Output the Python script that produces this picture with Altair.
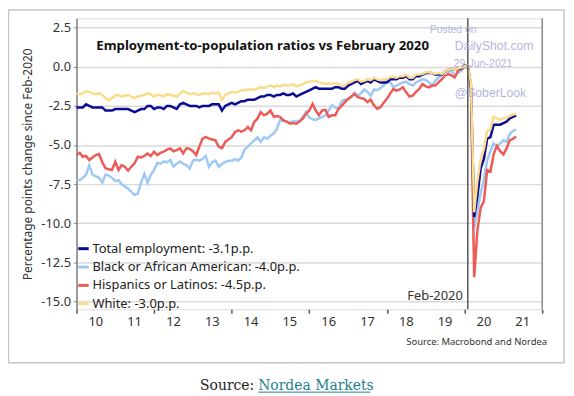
import altair as alt
import pandas as pd

# ---- data (monthly, Jan-2010 .. May-2021), change vs Feb-2020 in p.p. ----
months = pd.date_range("2010-01-01", "2021-05-01", freq="MS").strftime("%Y/%m/%d").tolist()

series_labels = [
    "Total employment: -3.1p.p.",
    "Black or African American: -4.0p.p.",
    "Hispanics or Latinos: -4.5p.p.",
    "White: -3.0p.p.",
]
series_colors = ["#0b0b94", "#9fc9f5", "#ec5b56", "#fbdc8a"]

total = [
    -2.6, -2.6, -2.6, -2.4, -2.5, -2.6, -2.6, -2.6, -2.6, -2.8, -2.8, -2.8,
    -2.7, -2.7, -2.7, -2.7, -2.7, -2.8, -2.9, -2.8, -2.7, -2.7, -2.5, -2.5,
    -2.7, -2.6, -2.6, -2.7, -2.5, -2.5, -2.6, -2.7, -2.4, -2.3, -2.4, -2.5,
    -2.5, -2.5, -2.6, -2.5, -2.5, -2.5, -2.4, -2.4, -2.4, -2.8, -2.5, -2.4,
    -2.3, -2.4, -2.3, -2.2, -2.2, -2.1, -2.1, -2.1, -2.0, -1.9, -1.9, -1.8,
    -1.8, -1.9, -1.8, -1.8, -1.7, -1.8, -1.8, -1.7, -1.9, -1.8, -1.7, -1.6,
    -1.5, -1.4, -1.3, -1.4, -1.4, -1.4, -1.4, -1.4, -1.3, -1.3, -1.4, -1.4,
    -1.2, -1.1, -1.0, -0.9, -1.1, -1.0, -0.9, -1.0, -0.8, -0.9, -1.0, -1.0,
    -1.0, -0.8, -0.8, -0.8, -0.7, -0.7, -0.6, -0.8, -0.8, -0.6, -0.6, -0.5,
    -0.4, -0.4, -0.4, -0.5, -0.5, -0.5, -0.3, -0.2, -0.1, -0.2, -0.1, -0.1,
    0.1, 0.0, -1.1, -9.6, -8.3, -6.5, -5.9, -4.6, -4.5, -3.7, -3.7, -3.7,
    -3.6, -3.5, -3.3, -3.2, -3.1,
]

black = [
    -7.2, -7.25, -7.1, -6.9, -6.3, -6.9, -7.0, -7.1, -7.4, -6.9, -6.95, -7.1,
    -7.3, -7.25, -7.5, -7.65, -7.8, -8.0, -8.2, -8.1, -7.4, -6.85, -7.4, -6.9,
    -6.6, -6.15, -6.2, -6.05, -6.1, -5.96, -6.38, -6.2, -6.05, -6.2, -6.3, -6.5,
    -6.0, -5.95, -6.0, -5.9, -5.7, -6.4, -6.1, -6.0, -6.4, -6.2, -6.1, -6.0,
    -6.0, -5.9, -6.0, -5.8, -5.3, -5.1, -4.9, -4.7, -4.5, -4.8, -4.5, -4.6,
    -4.4, -4.25, -4.0, -3.4, -3.45, -3.5, -3.55, -3.5, -3.45, -3.5, -3.2, -2.9,
    -3.25, -3.35, -3.4, -3.3, -3.2, -3.1, -2.8, -2.45, -2.6, -2.7, -2.2, -2.1,
    -2.05, -1.9, -1.65, -1.85, -1.7, -1.45, -1.6, -1.85, -1.45, -1.5, -1.35, -1.2,
    -0.8, -1.0, -1.3, -1.2, -1.1, -1.0, -0.95, -1.1, -1.2, -1.0, -0.9, -0.8,
    -0.85, -1.0, -1.2, -0.9, -0.7, -0.5, -0.3, -0.35, -0.25, -0.55, -0.4, -0.25,
    -0.05, 0.0, -1.3, -10.3, -9.2, -8.1, -7.2, -6.0, -5.4, -4.9, -5.1, -4.9,
    -4.7, -4.8, -4.3, -4.1, -4.0,
]

hispanic = [
    -5.64, -5.5, -5.75, -5.7, -5.96, -5.8, -5.64, -5.58, -6.1, -6.49, -6.55, -6.6,
    -6.07, -6.6, -6.28, -6.39, -6.64, -6.39, -6.17, -5.75, -5.8, -5.7, -5.54, -5.7,
    -5.43, -5.64, -5.5, -5.43, -5.3, -5.22, -5.4, -5.33, -5.22, -5.54, -5.2, -5.25,
    -5.4, -5.64, -5.11, -4.6, -4.48, -4.59, -4.65, -4.7, -5.11, -5.2, -4.8, -4.65,
    -4.5, -4.17, -4.06, -4.15, -4.06, -3.85, -4.06, -3.53, -3.3, -2.9, -3.1, -3.0,
    -2.8, -3.2, -3.15, -3.2, -3.42, -3.5, -3.64, -3.6, -3.64, -3.5, -3.32, -3.0,
    -2.79, -2.37, -2.79, -3.1, -2.79, -2.75, -3.2, -3.1, -3.1, -2.7, -2.5, -2.26,
    -2.05, -1.9, -1.73, -1.94, -2.0, -2.05, -2.26, -2.1, -2.47, -2.68, -2.58, -2.3,
    -2.05, -1.7, -1.42, -1.52, -1.45, -1.31, -1.63, -1.9, -1.84, -1.6, -1.42, -1.1,
    -1.25, -1.31, -1.2, -1.2, -1.0, -0.8, -0.57, -0.47, -0.55, -0.68, -0.25, -0.15,
    0.06, 0.0, -1.4, -13.45, -10.5, -9.0, -8.6, -6.6, -6.7, -5.6, -5.05, -5.4,
    -5.6, -5.2, -4.7, -4.6, -4.45,
]

white = [
    -1.7, -1.75, -1.7, -1.55, -1.6, -1.7, -1.75, -1.7, -1.8, -2.0, -2.15, -2.0,
    -1.85, -1.8, -1.9, -1.85, -1.8, -1.9, -2.0, -1.9, -1.85, -1.8, -1.7, -1.75,
    -1.9, -1.8, -1.8, -1.9, -1.75, -1.8, -1.85, -1.9, -1.7, -1.55, -1.65, -1.75,
    -1.7, -1.75, -1.8, -1.7, -1.7, -1.75, -1.65, -1.7, -1.65, -2.1, -1.8, -1.7,
    -1.6, -1.65, -1.6, -1.5, -1.5, -1.45, -1.45, -1.45, -1.4, -1.3, -1.35, -1.25,
    -1.2, -1.3, -1.2, -1.25, -1.15, -1.2, -1.2, -1.1, -1.25, -1.2, -1.1, -1.0,
    -0.95, -0.9, -0.9, -1.0, -1.05, -1.1, -1.05, -1.1, -1.05, -1.1, -1.2, -1.2,
    -1.0, -0.95, -0.85, -0.8, -0.95, -0.9, -0.8, -0.85, -0.7, -0.8, -0.85, -0.8,
    -0.8, -0.65, -0.65, -0.7, -0.6, -0.6, -0.5, -0.7, -0.7, -0.5, -0.5, -0.45,
    -0.35, -0.35, -0.4, -0.45, -0.4, -0.45, -0.3, -0.2, -0.1, -0.2, -0.1, -0.05,
    0.05, 0.0, -1.0, -9.3, -7.3, -5.9, -5.3, -4.1, -4.0, -3.2, -3.3, -3.4,
    -3.3, -3.25, -3.15, -3.05, -3.0,
]

y_ticks = [-15.0, -12.5, -10.0, -7.5, -5.0, -2.5, 0.0, 2.5]
x_tick_years = list(range(2010, 2023))
x_label_text = ["10", "11", "12", "13", "14", "15", "16", "17", "18", "19", "20", "21"]
x_label_dates = [f"{2000 + int(t)}/07/02" for t in x_label_text]

# ---- long table (drawing order: black, hispanic, total, white) ----
frames = []
for label, vals in [
    (series_labels[1], black),
    (series_labels[2], hispanic),
    (series_labels[0], total),
    (series_labels[3], white),
]:
    frames.append(pd.DataFrame({"date": months, "series": label, "value": vals}))
df = pd.concat(frames, ignore_index=True)

FONT = "Noto Sans"
x_scale = alt.Scale(domain=[alt.DateTime(year=2010, month=1, date=1),
                            alt.DateTime(year=2022, month=1, date=1)])
y_scale = alt.Scale(domain=[-15.5, 3.1], nice=False, zero=False)

x_axis = alt.Axis(
    values=[alt.DateTime(year=y, month=1, date=1) for y in x_tick_years],
    labels=False, grid=False, domain=False, tickColor="#555555",
    tickSize=4, tickWidth=1.5, title=None,
)
y_axis = alt.Axis(
    values=y_ticks,
    labelExpr="datum.value < 0 ? '-' + format(-datum.value, '.1f') : format(datum.value, '.1f')",
    grid=True, gridColor="#dadada", gridWidth=1.5, domainColor="#7f7f7f",
    domainWidth=1.5, tickSize=3, tickColor="#7f7f7f", labelPadding=3,
    labelFontSize=13, labelFont=FONT, labelColor="#333333",
    title="Percentage points change since Feb-2020", titleFont=FONT,
    titleFontSize=12, titleFontWeight="normal", titleColor="#333333",
    titlePadding=6,
)

lines = alt.Chart(df).mark_line(strokeWidth=2.5).encode(
    x=alt.X("date:T", scale=x_scale, axis=x_axis),
    y=alt.Y("value:Q", scale=y_scale, axis=y_axis),
    color=alt.Color(
        "series:N",
        scale=alt.Scale(domain=series_labels, range=series_colors),
        legend=alt.Legend(
            orient="none", legendX=0, legendY=225, direction="vertical",
            symbolType="stroke", symbolStrokeWidth=3, symbolSize=110,
            labelFontSize=13, labelFont=FONT, labelColor="#222222",
            labelLimit=400, title=None, rowPadding=4.5, padding=0,
            labelOffset=2,
        ),
    ),
    detail="series:N",
)

xlab_df = pd.DataFrame({"date": x_label_dates, "label": x_label_text})
x_labels = alt.Chart(xlab_df).mark_text(
    baseline="middle", align="center", font=FONT, fontSize=13, color="#333333"
).encode(x=alt.X("date:T", scale=x_scale), y=alt.value(306), text="label:N")

marker = pd.DataFrame({"date": ["2020/02/01"], "end": ["2022/01/01"]})
feb_line = alt.Chart(marker).mark_rule(color="#555555", strokeWidth=1.5).encode(
    x=alt.X("date:T", scale=x_scale))
end_line = alt.Chart(marker).mark_rule(color="#888888", strokeWidth=1.5).encode(
    x=alt.X("end:T", scale=x_scale))
feb_text = alt.Chart(marker).mark_text(
    text="Feb-2020", align="right", baseline="alphabetic", dx=-5,
    font=FONT, fontSize=13, color="#333333").encode(
    x=alt.X("date:T", scale=x_scale), y=alt.value(284))

one = pd.DataFrame({"k": [0]})

def txt(s, x, y, size, color="#222222", align="left", baseline="alphabetic",
        font=FONT, weight="normal"):
    return alt.Chart(one).mark_text(
        text=s, align=align, baseline=baseline, font=font, fontSize=size,
        color=color, fontWeight=weight).encode(x=alt.value(x), y=alt.value(y))

title = txt("Employment-to-population ratios vs February 2020", 20, 32, 13.3,
            color="#111111", weight="bold")
wm = "#b5b5dd"
w1 = txt("Posted on", 356, 12, 10.4, color=wm, baseline="middle", font="Liberation Sans")
w2 = txt("DailyShot.com", 381, 28, 12.3, color=wm, baseline="middle", font="Liberation Sans")
w3 = txt("29-Jun-2021", 380, 46, 10.5, color=wm, baseline="middle", font="Liberation Sans")
w4 = txt("@SoberLook", 381, 75, 12.3, color=wm, baseline="middle", font="Liberation Sans")
src = txt("Source: Macrobond and Nordea", 474, 329, 9.5, color="#333333", align="right")
s1 = txt("Source:", 179, 374, 14, color="#222222", align="right", font="DejaVu Serif")
s2 = txt("Nordea Markets", 183, 374, 14, color="#1f7f8c", align="left", font="DejaVu Serif")
underline = alt.Chart(one).mark_rule(color="#1f7f8c", strokeWidth=1).encode(
    x=alt.value(183), x2=alt.value(296), y=alt.value(376.5))
frame = alt.Chart(one).mark_rect(fill=None, stroke="#c6c6c6", strokeWidth=1.5).encode(
    x=alt.value(-68.5), x2=alt.value(491), y=alt.value(-8.5), y2=alt.value(347))

chart = alt.layer(
    frame, lines, x_labels, feb_line, end_line, feb_text, title, w1, w2, w3, w4,
    src, s1, s2, underline,
).properties(
    width=469, height=293,
    autosize=alt.AutoSizeParams(type="none"),
    padding={"left": 69, "top": 9, "right": 24, "bottom": 87},
).configure_view(stroke=None).configure(background="white")

chart.save("out.html", embed_options={"renderer": "svg", "actions": False})
